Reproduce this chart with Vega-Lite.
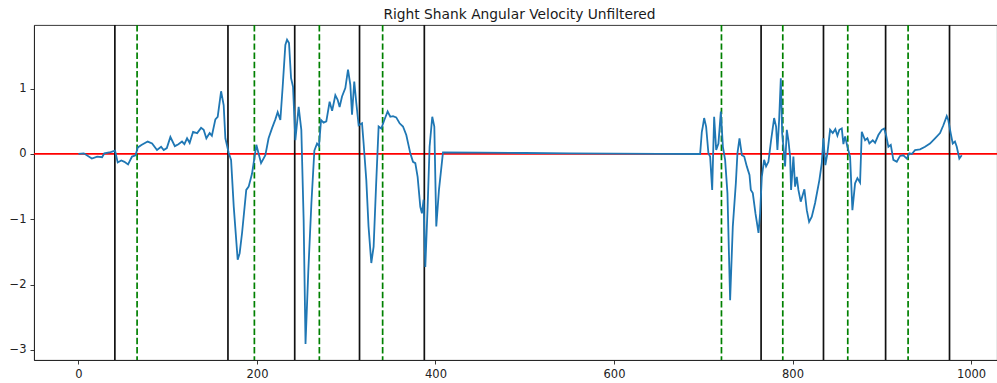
{
  "$schema": "https://vega.github.io/schema/vega-lite/v6.json",
  "width": 963,
  "height": 335,
  "autosize": {"type": "none"},
  "padding": {"left": 34, "top": 25, "right": 0, "bottom": 23},
  "background": "white",
  "title": {"text": "Right Shank Angular Velocity Unfiltered", "font": "DejaVu Sans", "fontSize": 13.8, "fontWeight": "normal", "color": "#1a1a1a", "anchor": "middle", "baseline": "alphabetic", "offset": 6, "dx": 4, "dy": 15},
  "config": {
    "view": {"stroke": "#222", "strokeWidth": 0.9},
    "axis": {"grid": false, "domainColor": "#222", "domainWidth": 0.9, "tickColor": "#222", "tickWidth": 0.9, "tickSize": 4, "labelPadding": 4, "labelFont": "DejaVu Sans", "labelFontSize": 11.5, "labelColor": "#222", "title": null, "format": "d"}
  },
  "datasets": {
    "signal": [
      {"t":0,"v":0},{"t":6,"v":0.01},{"t":15,"v":-0.07},{"t":21,"v":-0.04},{"t":26.5,"v":-0.05},{"t":29,"v":0.01},{"t":36,"v":0.03},{"t":41,"v":0.05},{"t":44,"v":-0.13},{"t":48,"v":-0.10},{"t":51.5,"v":-0.12},{"t":55.6,"v":-0.16},{"t":60,"v":-0.04},{"t":64,"v":-0.02},{"t":66.5,"v":0.10},{"t":71,"v":0.14},{"t":77.6,"v":0.19},{"t":82.5,"v":0.16},{"t":88,"v":0.06},{"t":92.6,"v":0.11},{"t":95.5,"v":0.06},{"t":99,"v":0.09},{"t":103,"v":0.26},{"t":108,"v":0.12},{"t":112,"v":0.15},{"t":116,"v":0.19},{"t":118.7,"v":0.15},{"t":121.7,"v":0.24},{"t":124.6,"v":0.17},{"t":128.4,"v":0.34},{"t":133,"v":0.32},{"t":137.4,"v":0.40},{"t":140.3,"v":0.37},{"t":143.3,"v":0.24},{"t":147,"v":0.32},{"t":149.5,"v":0.28},{"t":153.4,"v":0.53},{"t":156,"v":0.57},{"t":159.8,"v":0.96},{"t":162.7,"v":0.75},{"t":164.6,"v":0.24},{"t":168.3,"v":0.02},{"t":171,"v":-0.09},{"t":174,"v":-0.81},{"t":178.4,"v":-1.62},{"t":180.6,"v":-1.52},{"t":183.3,"v":-1.21},{"t":188,"v":-0.55},{"t":190.7,"v":-0.50},{"t":194.5,"v":-0.30},{"t":199.3,"v":0.14},{"t":204.6,"v":-0.14},{"t":209.4,"v":-0.02},{"t":213,"v":0.24},{"t":217,"v":0.40},{"t":220.6,"v":0.53},{"t":223.2,"v":0.64},{"t":226.2,"v":0.52},{"t":228.8,"v":1.03},{"t":231.8,"v":1.67},{"t":233.7,"v":1.75},{"t":235.9,"v":1.70},{"t":238.2,"v":1.16},{"t":240.4,"v":1.03},{"t":243,"v":0.21},{"t":246.7,"v":0.72},{"t":249.7,"v":0.37},{"t":252.3,"v":-1.01},{"t":254.4,"v":-2.91},{"t":257.5,"v":-1.8},{"t":261,"v":-0.75},{"t":264.3,"v":0.05},{"t":267.3,"v":0.16},{"t":269.5,"v":0.12},{"t":271.8,"v":0.52},{"t":274.7,"v":0.48},{"t":277.7,"v":0.50},{"t":281.4,"v":0.80},{"t":284.2,"v":0.66},{"t":287.8,"v":0.90},{"t":290.4,"v":0.83},{"t":292.6,"v":0.72},{"t":295.3,"v":0.88},{"t":299,"v":1.01},{"t":302,"v":1.29},{"t":304.6,"v":1.06},{"t":306.5,"v":0.60},{"t":309,"v":1.11},{"t":311.3,"v":0.78},{"t":313.9,"v":0.44},{"t":317.7,"v":0.47},{"t":319.5,"v":0.16},{"t":322.5,"v":-0.40},{"t":325,"v":-1.11},{"t":328.1,"v":-1.67},{"t":330.7,"v":-1.42},{"t":333.4,"v":-0.50},{"t":336.3,"v":0.42},{"t":339.3,"v":0.39},{"t":342.7,"v":0.52},{"t":346.4,"v":0.65},{"t":349.4,"v":0.57},{"t":352.4,"v":0.58},{"t":356,"v":0.56},{"t":359.8,"v":0.47},{"t":363.6,"v":0.42},{"t":367.3,"v":0.29},{"t":371.8,"v":0.01},{"t":374.8,"v":-0.12},{"t":377.4,"v":-0.14},{"t":380,"v":-0.35},{"t":383,"v":-0.81},{"t":384.8,"v":-0.91},{"t":386.7,"v":-0.70},{"t":388.6,"v":-1.73},{"t":391.2,"v":-0.81},{"t":393.4,"v":0.11},{"t":396.4,"v":0.57},{"t":398.7,"v":0.42},{"t":400.9,"v":-1.11},{"t":403.9,"v":-0.55},{"t":408.4,"v":0.025},{"t":450,"v":0.02},{"t":500,"v":0.015},{"t":550,"v":0.01},{"t":600,"v":0.006},{"t":650,"v":0.003},{"t":696.5,"v":0},{"t":698.4,"v":0.34},{"t":699.5,"v":0.42},{"t":701,"v":0.55},{"t":703.2,"v":0.42},{"t":705.8,"v":0.01},{"t":707.7,"v":-0.04},{"t":710,"v":-0.55},{"t":712.2,"v":0.57},{"t":714.5,"v":0.06},{"t":717,"v":0.16},{"t":719.7,"v":0.65},{"t":722,"v":0.11},{"t":724.5,"v":-0.09},{"t":727.1,"v":-0.60},{"t":730.1,"v":-2.24},{"t":733.1,"v":-1.11},{"t":736.5,"v":-0.45},{"t":738.3,"v":0.01},{"t":740.6,"v":0.24},{"t":743.3,"v":-0.02},{"t":745.9,"v":-0.04},{"t":748.8,"v":-0.19},{"t":751.8,"v":-0.32},{"t":753.3,"v":-0.55},{"t":755.5,"v":-0.60},{"t":758.5,"v":-0.91},{"t":761.9,"v":-1.21},{"t":763.7,"v":-0.91},{"t":765.6,"v":-0.35},{"t":768.2,"v":-0.09},{"t":770.4,"v":-0.19},{"t":773,"v":-0.12},{"t":776,"v":0.21},{"t":779.4,"v":0.55},{"t":781.6,"v":0.42},{"t":783.1,"v":0.06},{"t":785,"v":0.52},{"t":786.9,"v":1.16},{"t":788.4,"v":0.32},{"t":789.8,"v":0.11},{"t":791.7,"v":-0.19},{"t":793.6,"v":0.37},{"t":795.4,"v":0.21},{"t":797.3,"v":-0.04},{"t":798.4,"v":-0.55},{"t":801,"v":-0.04},{"t":802.9,"v":-0.50},{"t":804.8,"v":-0.35},{"t":806.6,"v":-0.55},{"t":809.2,"v":-0.73},{"t":813.3,"v":-0.54},{"t":816,"v":-0.86},{"t":818.6,"v":-1.04},{"t":821.6,"v":-0.96},{"t":825.3,"v":-0.75},{"t":830.1,"v":-0.40},{"t":832.8,"v":-0.14},{"t":834.6,"v":0.24},{"t":836.8,"v":-0.17},{"t":839.1,"v":0.01},{"t":842.1,"v":0.37},{"t":845.1,"v":0.32},{"t":848,"v":0.38},{"t":850.3,"v":0.28},{"t":852.5,"v":0.37},{"t":855.2,"v":0.39},{"t":857,"v":0.15},{"t":858.9,"v":0.27},{"t":861.5,"v":0.11},{"t":864.5,"v":-0.04},{"t":867.1,"v":-0.86},{"t":870.1,"v":-0.45},{"t":872.7,"v":-0.37},{"t":875.7,"v":-0.44},{"t":877.6,"v":0.34},{"t":881.3,"v":0.21},{"t":883.9,"v":0.24},{"t":886.1,"v":0.16},{"t":889.9,"v":0.21},{"t":892.5,"v":0.17},{"t":896.2,"v":0.29},{"t":900,"v":0.37},{"t":902.6,"v":0.39},{"t":904.8,"v":0.29},{"t":907.4,"v":0.11},{"t":910.1,"v":0.14},{"t":913,"v":-0.09},{"t":916.8,"v":-0.12},{"t":920.5,"v":-0.03},{"t":924.2,"v":-0.02},{"t":928,"v":-0.07},{"t":930.9,"v":0.01},{"t":933.6,"v":0},{"t":937.3,"v":0.06},{"t":942.9,"v":0.07},{"t":948.5,"v":0.11},{"t":954,"v":0.16},{"t":959.7,"v":0.24},{"t":965.3,"v":0.32},{"t":969,"v":0.44},{"t":972.8,"v":0.58},{"t":974.5,"v":0.52},{"t":977.2,"v":0.32},{"t":979.5,"v":0.16},{"t":982,"v":0.19},{"t":984,"v":0.11},{"t":986.9,"v":-0.07},{"t":989.6,"v":-0.02}
    ],
    "black": [{"t":40.8},{"t":167.5},{"t":242.3},{"t":314.9},{"t":387.5},{"t":764.8},{"t":834.7},{"t":904.3},{"t":975.9}],
    "green": [{"t":65.7},{"t":197.1},{"t":269.9},{"t":340.8},{"t":720.4},{"t":789.1},{"t":861.9},{"t":929.5}],
    "zero": [{"v":0}]
  },
  "layer": [
    {
      "data": {"name": "zero"},
      "mark": {"type": "rule", "color": "#ff0000", "strokeWidth": 1.7},
      "encoding": {
        "y": {"field": "v", "type": "quantitative", "scale": {"domain": [-3.155, 1.975], "nice": false, "zero": false}, "axis": {"values": [-3,-2,-1,0,1]}}
      }
    },
    {
      "data": {"name": "black"},
      "mark": {"type": "rule", "color": "#111111", "strokeWidth": 1.7},
      "encoding": {
        "x": {"field": "t", "type": "quantitative", "scale": {"domain": [-49.8, 1029.1], "nice": false, "zero": false}, "axis": {"values": [0,200,400,600,800,1000]}}
      }
    },
    {
      "data": {"name": "green"},
      "mark": {"type": "rule", "color": "#008000", "strokeWidth": 1.7, "strokeDash": [6.4, 2.8]},
      "encoding": {
        "x": {"field": "t", "type": "quantitative"}
      }
    },
    {
      "data": {"name": "signal"},
      "mark": {"type": "line", "color": "#1f77b4", "strokeWidth": 1.8, "clip": true},
      "encoding": {
        "x": {"field": "t", "type": "quantitative"},
        "y": {"field": "v", "type": "quantitative"}
      }
    }
  ]
}
